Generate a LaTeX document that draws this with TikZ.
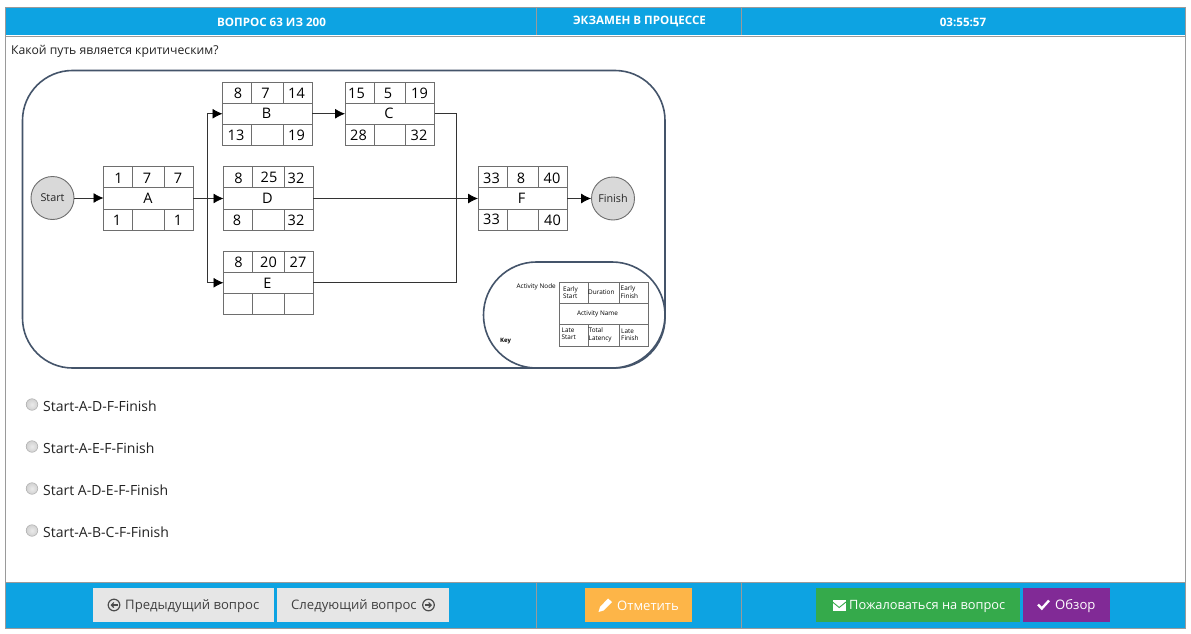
\documentclass[tikz,border=0pt]{standalone}
\usepackage{fontspec}
\setmainfont{Open Sans}
\usetikzlibrary{arrows.meta}
\definecolor{barblue}{HTML}{0DA3E2}
\definecolor{framegray}{HTML}{9A9A9A}
\definecolor{outline}{HTML}{44546A}
\definecolor{btngray}{HTML}{E6E6E6}
\definecolor{btnorange}{HTML}{FDB548}
\definecolor{btngreen}{HTML}{35AA4B}
\definecolor{btnpurple}{HTML}{812A96}
\definecolor{nodegray}{HTML}{D9D9D9}
\definecolor{cellgray}{HTML}{6E6E6E}
\definecolor{uitext}{HTML}{222222}
\tikzset{
  x=1pt,y=-1pt,
  bar/.style={draw=none,fill=barblue},
  headtxt/.style={text=white,font=\bfseries\fontsize{11.6}{13}\selectfont,inner sep=0pt},
  celltxt/.style={font=\fontsize{14.5}{16}\selectfont,text=black,inner sep=0pt},
  keytxt/.style={font=\fontsize{6.4}{7.4}\selectfont,text=black,inner sep=0pt,align=left},
  term/.style={circle,draw=cellgray,fill=nodegray,line width=.9pt,minimum size=43pt,inner sep=0pt,font=\fontsize{10.8}{12}\selectfont,text=black!85},
  link/.style={draw=black!80,line width=.8pt},
  arr/.style={link,-{Latex[length=10pt,width=10pt,color=black]}},
  panel/.style={draw=outline,line width=1.6pt,fill=white},
  opt/.style={font=\fontsize{14}{16}\selectfont,text=uitext,anchor=west,inner sep=0pt},
  radio/.style={circle,draw=black!30,line width=.6pt,inner color=white!92!black,outer color=black!18,minimum size=11.5pt,inner sep=0pt},
  btntxt/.style={inner sep=0pt,anchor=west,font=\fontsize{13.1}{15}\selectfont,text=#1},
}
% #1 name, #2 x0, #3 y0, #4 col1, #5 col2, #6 x1, #7 y1, #8 row1, #9 row2
\newcommand{\actframe}[9]{%
  \node[draw=cellgray,line width=.9pt,fill=white,inner sep=0pt,outer sep=0pt,anchor=north west,minimum width=#6pt-#2pt,minimum height=#7pt-#3pt] (#1) at (#2,#3) {};
  \draw[draw=cellgray,line width=.9pt] (#2,#8) -- (#6,#8) (#2,#9) -- (#6,#9)
    (#4,#3) -- (#4,#8) (#5,#3) -- (#5,#8) (#4,#9) -- (#4,#7) (#5,#9) -- (#5,#7);
}
\begin{document}
\begin{tikzpicture}
\useasboundingbox (0,0) rectangle (1191,634);
\fill[white] (0,0) rectangle (1191,634);
% page frame and bars
\draw[framegray,line width=1pt] (5.5,7.5) rectangle (1185,628);
\fill[bar] (6,8) rectangle (1184.5,35.5);
\fill[bar] (6,583) rectangle (1184.5,627.5);
\draw[framegray,line width=.8pt] (6,36) -- (1184.5,36) (6,582.5) -- (1184.5,582.5);
\draw[framegray,line width=.6pt] (536,8) -- (536,35.5) (741.5,8) -- (741.5,35.5) (536,583) -- (536,627.5) (741.5,583) -- (741.5,627.5);
\node[headtxt] (h1) at (271.5,22) {ВОПРОС 63 ИЗ 200};
\node[headtxt] (h2) at (639.5,22) {ЭКЗАМЕН В ПРОЦЕССЕ};
\node[headtxt] (h3) at (963,22) {03:55:57};
\node[anchor=west,inner sep=0pt,font=\fontsize{12.2}{14}\selectfont,text=uitext] (q) at (11,51) {Какой путь является критическим?};
% diagram panel
\draw[panel,rounded corners=50pt] (22.5,70.5) rectangle (665,368);
\draw[panel,rounded corners=52.9pt] (483.5,262) rectangle (665,368);
% activity frames
\actframe{A}{103.5}{166.5}{132.5}{164}{193}{230.5}{187.5}{209}
\actframe{B}{222.5}{82}{251.5}{283}{312}{145.5}{103}{124}
\actframe{C}{345}{82}{374.5}{405}{434.5}{145.5}{103}{124}
\actframe{D}{223.5}{166.5}{252.5}{284}{313}{230.5}{187.5}{209}
\actframe{E}{223.5}{251}{252.5}{284}{313}{314.5}{272}{293.5}
\actframe{F}{478}{166.5}{507}{538}{567}{230}{187.5}{209}
\actframe{K}{559}{282}{588}{619}{648.5}{346}{303}{324}
% cell texts
\foreach \n/\x/\y/\t in {
 a1/118.5/178/1,a2/147/178/7,a3/178/178/7,a4/148/198.5/A,a5/117/220/1,a6/178/220/1,
 b1/238/93.5/8,b2/265.5/93.5/7,b3/296.5/93.5/14,b4/266.5/113.5/B,b5/236/135/13,b6/296.5/135/19,
 c1/356.5/93.5/15,c2/388/93.5/5,c3/419.5/93.5/19,c4/389/113.5/C,c5/358.5/135/28,c6/419/135/32,
 d1/238.5/178/8,d2/269/177.5/25,d3/296/178/32,d4/267.5/198.5/D,d5/237/220/8,d6/296/220/32,
 e1/238.5/262/8,e2/268.5/262/20,e3/298/262/27,e4/267.5/283/E,
 f1/491.5/178/33,f2/521/178/8,f3/552/178/40,f4/521.5/198.5/F,f5/491.5/219.5/33,f6/552.5/220/40}{
  \node[celltxt] (\n) at (\x,\y) {\t};
}
\node[term] (start) at (52.5,198) {Start};
\node[term] (finish) at (613,198.5) {Finish};
% connectors
\coordinate (bus) at (207.5,198.5);
\coordinate (cturn) at (456.5,113.5);
\draw[arr] (start) -- (A.west |- start);
\draw[arr] (A.east |- bus) -- (D.west |- bus);
\draw[arr] (bus) |- (B.west);
\draw[arr] (bus) |- (E.west);
\draw[arr] (B.east) -- (C.west);
\draw[arr] (D.east) -- (F.west |- D.east);
\draw[link] (C.east) -| (cturn |- E.east) -- (E.east);
\draw[arr] (F.east |- finish) -- (finish.west);
% key
\node[keytxt,anchor=east] (kn) at (556,287) {Activity Node};
\node[keytxt,font=\bfseries\fontsize{6}{7}\selectfont] (kk) at (505.5,341.5) {Key};
\node[keytxt,anchor=west] (k1) at (563,292.5) {Early\\Start};
\node[keytxt,anchor=west] (k2) at (588,292) {Duration};
\node[keytxt,anchor=west] (k3) at (620.5,292) {Early\\Finish};
\node[keytxt] (k4) at (597.5,314) {Activity Name};
\node[keytxt,anchor=west] (k5) at (561.5,334) {Late\\Start};
\node[keytxt,anchor=west] (k6) at (588.5,335) {Total\\Latency};
\node[keytxt,anchor=west] (k7) at (621,334.5) {Late\\Finish};
% options
\foreach \i/\y/\t in {1/404.5/Start-A-D-F-Finish,2/446.5/Start-A-E-F-Finish,3/488.5/Start A-D-E-F-Finish,4/530.5/Start-A-B-C-F-Finish}{
  \node[radio] (r\i) at (32,\y) {};
  \node[opt] (o\i) at (43,\y+2) {\t};
}
% buttons
\fill[btngray] (93,588) rectangle (274,622);
\fill[btngray] (277,588) rectangle (449,622);
\fill[btnorange] (585,588) rectangle (692,622);
\fill[btngreen] (816,588) rectangle (1020,622);
\fill[btnpurple] (1023,588) rectangle (1110,622);
\node[btntxt=black!75] (p) at (125,606) {Предыдущий вопрос};
\node[btntxt=black!75] (n) at (291,606) {Следующий вопрос};
\node[btntxt=white] (m) at (617,606) {Отметить};
\node[btntxt=white,font=\fontsize{12.8}{15}\selectfont] (c) at (849,606) {Пожаловаться на вопрос};
\node[btntxt=white] (o) at (1055,606) {Обзор};
% icons
\draw[black!70,line width=1.2pt] (114,605) circle (5.8);
\draw[black!70,line width=1.2pt,-{Straight Barb[length=2.5pt,width=5pt]}] (118,605) -- (110.5,605);
\draw[black!70,line width=1.2pt] (428.5,605) circle (5.8);
\draw[black!70,line width=1.2pt,-{Straight Barb[length=2.5pt,width=5pt]}] (424.5,605) -- (432,605);
% pencil
\fill[white] (598.5,612) -- (600,607) -- (608,598.5) -- (612,602) -- (603.5,610.5) -- cycle;
% envelope
\fill[white] (832.5,600) rectangle (846,611);
\draw[btngreen,line width=.9pt] (832.5,602) -- (839.2,607.5) -- (846,602);
% check
\draw[white,line width=2.4pt] (1038,604.5) -- (1041.8,608.5) -- (1049,600.5);
\end{tikzpicture}
\end{document}
